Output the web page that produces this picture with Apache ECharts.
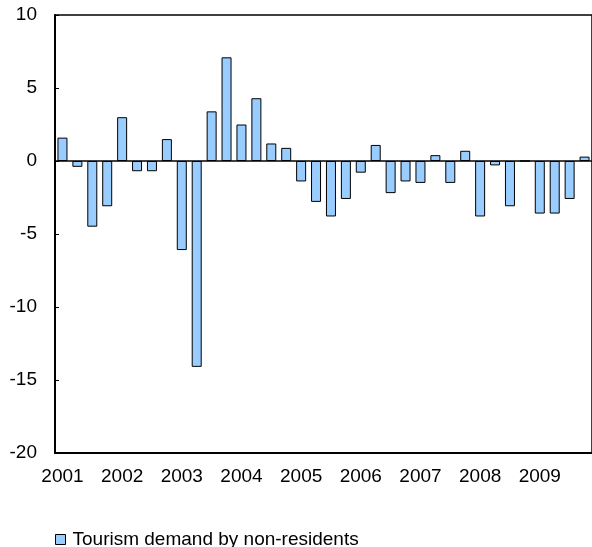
<!DOCTYPE html>
<html>
<head>
<meta charset="utf-8">
<script src="https://cdn.jsdelivr.net/npm/echarts@6/dist/echarts.min.js"></script>
<style>html,body{margin:0;padding:0;background:#fff;}#c{width:592px;height:547px;}</style>
</head>
<body>
<div id="c"></div>
<script>
var years = ['2001','2002','2003','2004','2005','2006','2007','2008','2009'];
var quarters = ['Q1','Q2','Q3','Q4'];
var categories = [];
years.forEach(function(y){ quarters.forEach(function(q){ categories.push(y + ' ' + q); }); });
var seriesName = 'Tourism demand by non-residents';
var values = [1.6, -0.4, -4.5, -3.1,
              3.0, -0.7, -0.7, 1.5,
              -6.1, -14.1, 3.4, 7.1,
              2.5, 4.3, 1.2, 0.9,
              -1.4, -2.8, -3.8, -2.6,
              -0.8, 1.1, -2.2, -1.4,
              -1.5, 0.4, -1.5, 0.7,
              -3.8, -0.3, -3.1, 0,
              -3.6, -3.6, -2.6, 0.3];
var yTicks = [-20, -15, -10, -5, 0, 5, 10];

var chart = echarts.init(document.getElementById('c'), null, {renderer: 'canvas'});
var font = 'Liberation Sans, Arial, sans-serif';
chart.setOption({
  animation: false,
  grid: {left: 55, right: -3, top: 15, bottom: 94, show: true, borderColor: '#000', borderWidth: 1.5, backgroundColor: 'transparent'},
  legend: {
    left: 50, top: 525,
    itemWidth: 10, itemHeight: 10,
    icon: 'rect',
    itemStyle: {borderColor: '#000', borderWidth: 1},
    textStyle: {fontFamily: font, fontSize: 19, color: '#000', padding: [0, 0, 0, 2]},
    data: [seriesName]
  },
  xAxis: {
    type: 'category',
    data: categories,
    axisLine: {onZero: false, lineStyle: {color: '#000', width: 2}},
    axisTick: {inside: true, length: 4, interval: 0, lineStyle: {color: '#000', width: 1}},
    axisLabel: {
      interval: 3, margin: 14, color: '#000', fontFamily: font, fontSize: 19,
      formatter: function(v){ return v.slice(0, 4); }
    },
    splitLine: {show: false}
  },
  yAxis: {
    type: 'value',
    min: yTicks[0], max: yTicks[yTicks.length - 1], interval: 5,
    axisLine: {show: true, lineStyle: {color: '#000', width: 2}},
    axisTick: {show: true, inside: true, length: 4, lineStyle: {color: '#000', width: 1}},
    axisLabel: {margin: 18, color: '#000', fontFamily: font, fontSize: 19},
    splitLine: {show: false}
  },
  series: [{
    name: seriesName,
    type: 'bar',
    data: values,
    barWidth: 10,
    itemStyle: {color: '#99CCFF', borderColor: '#000', borderWidth: 1},
    markLine: {
      silent: true, symbol: 'none', label: {show: false},
      lineStyle: {color: '#000', width: 1.5, type: 'solid'},
      data: [{yAxis: 0}]
    }
  }]
});
</script>
</body>
</html>
